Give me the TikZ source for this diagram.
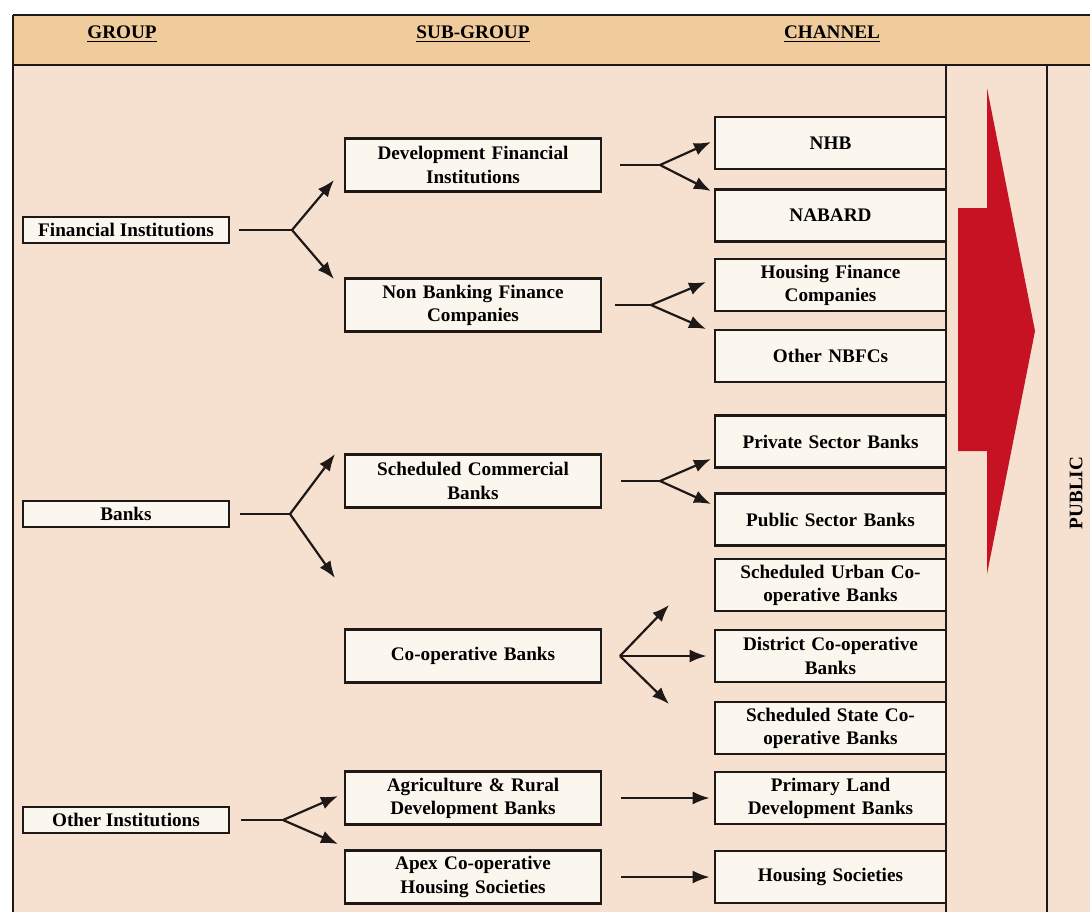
\documentclass[tikz,border=0pt]{standalone}
\usepackage{fontspec}
\setmainfont{Liberation Serif}
\usetikzlibrary{arrows.meta}

\begin{document}
\begin{tikzpicture}[x=0.5pt,y=-0.5pt,
  every node/.style={font=\bfseries\fontsize{9.6}{11.6}\selectfont},
  grpbox/.style={draw=kLine,line width=1.4pt,fill=kBox,inner sep=0pt,
    minimum width=103pt,minimum height=13pt},
  subbox/.style={draw=kLine,line width=1.4pt,fill=kBox,inner sep=0pt,
    minimum width=128pt,minimum height=26.5pt,text width=126pt,align=center},
  chbox/.style={draw=kLine,line width=1.4pt,fill=kBox,inner sep=0pt,
    minimum width=115.5pt,minimum height=26pt,text width=113pt,align=center},
  stem/.style={kLine,line width=0.7pt},
  fork/.style={kLine,line width=1.1pt,-{Latex[length=8.5pt,width=6.5pt]}}]
  % colors
  \definecolor{kHead}{RGB}{240,203,156}
  \definecolor{kBody}{RGB}{246,225,208}
  \definecolor{kBox}{RGB}{252,247,238}
  \definecolor{kLine}{RGB}{30,24,22}
  \definecolor{kRed}{RGB}{198,18,34}
  \useasboundingbox (0,0) rectangle (1090,912);
  % page
  \fill[white] (0,0) rectangle (1090,912);
  \fill[kBody] (13,65) rectangle (1090,912);
  \fill[kHead] (13,15) rectangle (1090,65);
  \draw[kLine,line width=1.3pt] (13,15) -- (1090,15);
  \draw[kLine,line width=0.8pt] (13,65) -- (1090,65);
  \draw[kLine,line width=0.8pt] (13,15) -- (13,912);
  \draw[kLine,line width=0.9pt] (946,65) -- (946,912);
  \draw[kLine,line width=0.9pt] (1047,65) -- (1047,912);

  % header
  \node (hgroup) at (122,34) {\underline{GROUP}};
  \node (hsub) at (473,34) {\underline{SUB-GROUP}};
  \node (hchan) at (832,34) {\underline{CHANNEL}};

  % groups
  \node[grpbox] (fi) at (126,230) {Financial Institutions};
  \node[grpbox] (banks) at (126,514) {Banks};
  \node[grpbox] (other) at (126,820) {Other Institutions};

  % sub-groups
  \node[subbox] (dfi) at (473,165) {Development Financial\\Institutions};
  \node[subbox] (nbfc) at (473,305) {Non Banking Finance\\Companies};
  \node[subbox] (scb) at (473,481) {Scheduled Commercial\\Banks};
  \node[subbox] (coop) at (473,656) {Co-operative Banks};
  \node[subbox] (agri) at (473,798) {Agriculture \& Rural\\Development Banks};
  \node[subbox] (apex) at (473,877) {Apex Co-operative\\Housing Societies};

  % channels
  \foreach \name/\y/\txt in {nhb/143/{NHB}, nabard/215.5/{NABARD},
      hfc/285/{Housing Finance\\Companies}, onbfc/356/{Other NBFCs},
      pvt/441.5/{Private Sector Banks}, pub/519.5/{Public Sector Banks},
      sucb/585/{Scheduled Urban Co-\\operative Banks},
      dccb/656/{District Co-operative\\Banks},
      sscb/728/{Scheduled State Co-\\operative Banks},
      pldb/798/{Primary Land\\Development Banks},
      hsoc/877/{Housing Societies}} {
    \node[chbox] (\name) at (830.5,\y) {\txt};
  };

  % forks
  \coordinate (fi-fork) at (292,230);
  \coordinate (banks-fork) at (290,514);
  \coordinate (other-fork) at (283,820);
  \coordinate (dfi-fork) at (660,165);
  \coordinate (nbfc-fork) at (651,305);
  \coordinate (scb-fork) at (660,481);
  \coordinate (coop-fork) at (620,656);

  \draw[stem] ([xshift=4.5pt]fi.east) -- (fi-fork);
  \draw[stem] ([xshift=5pt]banks.east) -- (banks-fork);
  \draw[stem] ([xshift=5.5pt]other.east) -- (other-fork);
  \draw[stem] ([xshift=9pt]dfi.east) -- (dfi-fork);
  \draw[stem] ([xshift=6.5pt]nbfc.east) -- (nbfc-fork);
  \draw[stem] ([xshift=9.5pt]scb.east) -- (scb-fork);

  \foreach \src/\ux/\uy/\dx/\dy in {fi/334/180/334/279, banks/335/454/335/578,
      other/338/796/338/844, dfi/711/142/711/191, nbfc/706/282/706/329,
      scb/711/459/711/504, coop/669/605/669/704} {
    \draw[fork] (\src-fork) -- (\ux,\uy);
    \draw[fork] (\src-fork) -- (\dx,\dy);
  };
  \draw[fork] (coop-fork) -- ([xshift=-3.5pt]dccb.west);
  \draw[fork] ([xshift=9.5pt]agri.east) -- ([xshift=-2pt]pldb.west);
  \draw[fork] ([xshift=9.5pt]apex.east) -- ([xshift=-2pt]hsoc.west);

  % flow to the public
  \fill[kRed] (958,208) -- (987,208) -- (987,88) -- (1035,331) -- (987,574)
    -- (987,451) -- (958,451) -- cycle;
  \node[rotate=90] (public) at (1076,493) {PUBLIC};
\end{tikzpicture}
\end{document}
